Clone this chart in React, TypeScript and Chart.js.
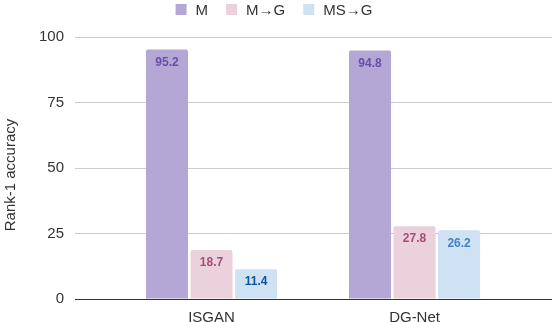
import React, { useEffect, useRef } from "react";
import { Chart, registerables } from "chart.js";

Chart.register(...registerables);

const categories = ["ISGAN", "DG-Net"];
const seriesNames = ["M", "M→G", "MS→G"];
const seriesM = [95.2, 94.8];
const seriesMG = [18.7, 27.8];
const seriesMSG = [11.4, 26.2];
const yTickValues = [0, 25, 50, 75, 100];
const yTitle = "Rank-1 accuracy";

const seriesData = [seriesM, seriesMG, seriesMSG];
const barColors = ["#b4a7d6", "#ead1dc", "#cfe2f3"];
const labelColors = [
  ["#674ea7", "#674ea7"],
  ["#a64d79", "#a64d79"],
  ["#0b5394", "#3d85c6"],
];

const FONT = "Arial, 'Liberation Sans', sans-serif";

const overlayPlugin = {
  id: "overlay",
  afterDatasetsDraw(chart: any) {
    const ctx = chart.ctx;
    ctx.save();
    ctx.font = `bold 12px ${FONT}`;
    ctx.textAlign = "center";
    ctx.textBaseline = "middle";
    chart.data.datasets.forEach((_ds: any, di: number) => {
      const meta = chart.getDatasetMeta(di);
      meta.data.forEach((el: any, i: number) => {
        const v = seriesData[di][i];
        ctx.fillStyle = labelColors[di][i];
        ctx.fillText(v.toFixed(1), el.x, el.y + 13);
      });
    });
    ctx.restore();
  },
  afterDraw(chart: any) {
    const ctx = chart.ctx;
    ctx.save();
    // legend
    ctx.font = `15px ${FONT}`;
    const box = 11;
    const gapText = 9;
    const gapItem = 18;
    const widths = seriesNames.map((n) => box + gapText + ctx.measureText(n).width);
    const total = widths.reduce((a, b) => a + b, 0) + gapItem * (seriesNames.length - 1);
    let x = 274 - total / 2;
    seriesNames.forEach((n, i) => {
      ctx.fillStyle = barColors[i];
      ctx.fillRect(x, 4, box, box);
      ctx.fillStyle = "#333333";
      ctx.textAlign = "left";
      ctx.textBaseline = "alphabetic";
      ctx.fillText(n, x + box + gapText, 15);
      x += widths[i] + gapItem;
    });
    // y title
    ctx.translate(10.5, 175);
    ctx.rotate(-Math.PI / 2);
    ctx.textAlign = "center";
    ctx.textBaseline = "middle";
    ctx.fillStyle = "#333333";
    ctx.fillText(yTitle, 0, 0);
    ctx.restore();
  },
};

export default function App() {
  const ref = useRef<HTMLCanvasElement | null>(null);
  useEffect(() => {
    if (!ref.current) return;
    const chart = new Chart(ref.current, {
      type: "bar",
      data: {
        datasets: seriesNames.map((name, di) => ({
          label: name,
          data: seriesData[di].map((v, i) => ({ x: i + 1, y: v })),
          backgroundColor: barColors[di],
          borderWidth: 0,
          borderRadius: 2,
          categoryPercentage: 0.658,
          barPercentage: 0.944,
        })),
      },
      plugins: [overlayPlugin],
      options: {
        responsive: false,
        animation: false,
        events: [],
        layout: { padding: { top: 37, left: 0, right: 0, bottom: 0 } },
        plugins: {
          legend: { display: false },
          tooltip: { enabled: false },
          title: { display: false },
        },
        scales: {
          x: {
            type: "linear",
            offset: false,
            bounds: "data",
            min: 0.3276,
            max: 2.677,
            grid: { display: false, drawTicks: false },
            border: { display: false },
            afterBuildTicks: (scale: any) => {
              scale.ticks = categories.map((_c, i) => ({ value: i + 1 }));
            },
            afterFit: (scale: any) => {
              scale.height = 23;
            },
            ticks: {
              autoSkip: false,
              maxRotation: 0,
              padding: 10,
              color: "#333333",
              font: { family: FONT, size: 15 },
              callback: (v: any) => categories[Math.round(Number(v)) - 1] ?? "",
            },
          },
          y: {
            min: 0,
            max: 100,
            afterBuildTicks: (scale: any) => {
              scale.ticks = yTickValues.map((v) => ({ value: v }));
            },
            afterFit: (scale: any) => {
              scale.width = 75;
            },
            grid: {
              drawTicks: false,
              color: (c: any) => (c.tick && c.tick.value === 0 ? "#333333" : "#cccccc"),
              lineWidth: 1,
            },
            border: { display: false },
            ticks: {
              padding: 11,
              color: "#333333",
              font: { family: FONT, size: 15 },
            },
            title: { display: false },
          },
        },
      },
    });
    return () => chart.destroy();
  }, []);
  return (
    <div style={{ position: "absolute", left: 0, top: 0, width: 552, height: 322 }}>
      <canvas ref={ref} width={552} height={322} style={{ display: "block" }} />
    </div>
  );
}
